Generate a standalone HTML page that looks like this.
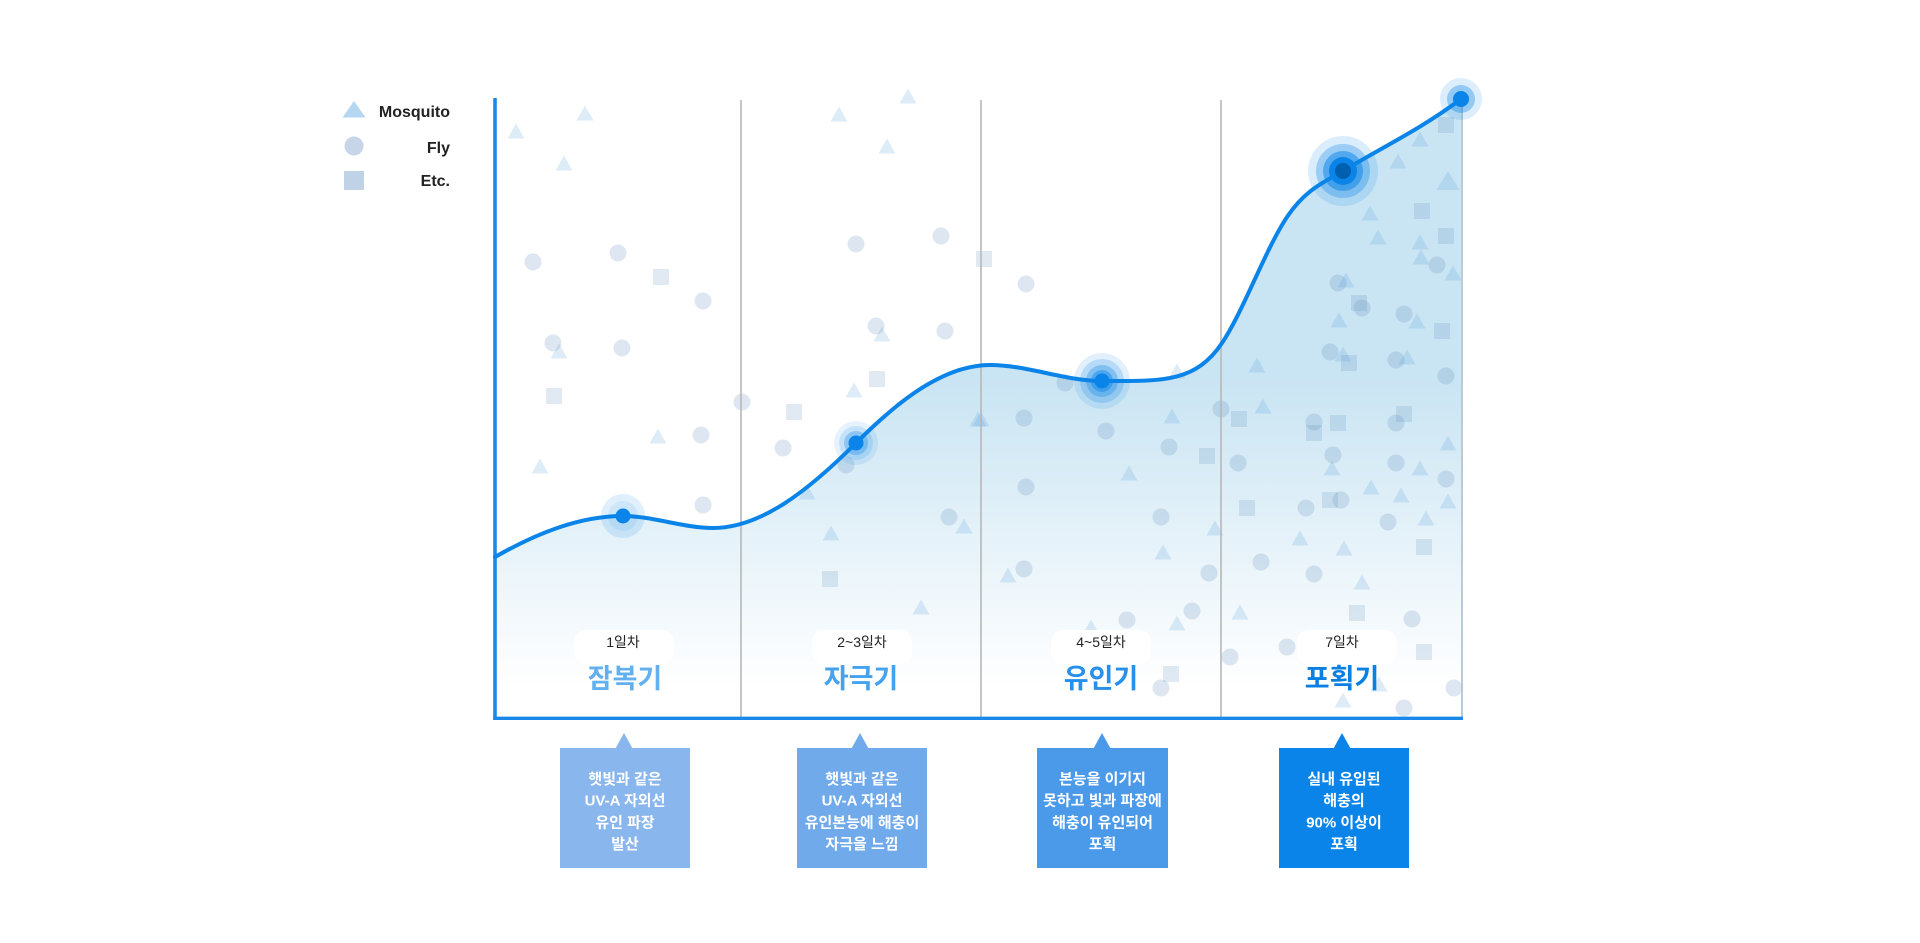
<!DOCTYPE html>
<html><head><meta charset="utf-8">
<style>
html,body{margin:0;padding:0;background:#fff;}
svg{display:block;}
text{font-family:"Liberation Sans","Noto Sans CJK KR",sans-serif;}
</style></head>
<body>
<svg width="1920" height="943" viewBox="0 0 1920 943" xmlns="http://www.w3.org/2000/svg">
<defs>
<linearGradient id="g" x1="0" y1="100" x2="0" y2="718" gradientUnits="userSpaceOnUse">
<stop offset="0" stop-color="#c9e4f3"/>
<stop offset="0.45" stop-color="#c9e4f3"/>
<stop offset="0.95" stop-color="#ffffff"/>
</linearGradient>
<polygon id="tri" points="0,-8.5 8.5,6.5 -8.5,6.5"/>
<polygon id="bigtri" points="0,-11 11.5,8 -11.5,8"/>
</defs>

<!-- fill -->
<path fill="url(#g)" d="M495,557 C537.7,532.7 580.3,516 623,516 C653,516 683,528 713,528 C760.7,528 808.3,490.7 856,443 C900.7,398.3 945.3,365 990,365 C1027.3,365 1064.7,381 1102,381 C1160,381 1195,383.5 1222,343 C1243.7,310.5 1265.3,249.5 1287,217 C1305.7,189 1324.3,182.2 1343,171 C1382.3,147.4 1421.7,128.5 1461,99 L1461,718 L495,718 Z"/>

<!-- triangles -->
<g fill="rgb(70,150,215)" fill-opacity="0.18">
<use href="#tri" x="516" y="132"/><use href="#tri" x="585" y="114"/><use href="#tri" x="564" y="164"/><use href="#tri" x="559" y="352"/><use href="#tri" x="658" y="437"/><use href="#tri" x="540" y="467"/>
<use href="#tri" x="839" y="115"/><use href="#tri" x="908" y="97"/><use href="#tri" x="887" y="147"/><use href="#tri" x="882" y="335"/><use href="#tri" x="854" y="391"/><use href="#tri" x="807" y="493"/><use href="#tri" x="964" y="527"/><use href="#tri" x="831" y="534"/><use href="#tri" x="921" y="608"/><use href="#tri" x="978" y="420"/>
<use href="#tri" x="1177" y="372"/><use href="#tri" x="981" y="420"/><use href="#tri" x="1172" y="417"/><use href="#tri" x="1129" y="474"/><use href="#tri" x="1215" y="529"/><use href="#tri" x="1163" y="553"/><use href="#tri" x="1008" y="576"/><use href="#tri" x="1177" y="624"/><use href="#tri" x="1091" y="628"/>
<use href="#tri" x="1420" y="140"/><use href="#tri" x="1398" y="162"/><use href="#bigtri" x="1448" y="182"/><use href="#tri" x="1370" y="214"/><use href="#tri" x="1378" y="238"/><use href="#tri" x="1420" y="243"/><use href="#tri" x="1421" y="258"/><use href="#tri" x="1453" y="274"/><use href="#tri" x="1346" y="281"/><use href="#tri" x="1417" y="322"/><use href="#tri" x="1339" y="321"/><use href="#tri" x="1343" y="355"/><use href="#tri" x="1407" y="358"/><use href="#tri" x="1257" y="366"/><use href="#tri" x="1263" y="407"/><use href="#tri" x="1448" y="444"/><use href="#tri" x="1332" y="469"/><use href="#tri" x="1420" y="469"/><use href="#tri" x="1371" y="488"/><use href="#tri" x="1401" y="496"/><use href="#tri" x="1448" y="502"/><use href="#tri" x="1426" y="519"/><use href="#tri" x="1300" y="539"/><use href="#tri" x="1344" y="549"/><use href="#tri" x="1362" y="583"/><use href="#tri" x="1240" y="613"/><use href="#tri" x="1379" y="685"/><use href="#tri" x="1343" y="701"/>
</g>

<!-- circles -->
<g fill="rgb(80,130,180)" fill-opacity="0.19">
<circle cx="533" cy="262" r="8.5"/><circle cx="618" cy="253" r="8.5"/><circle cx="703" cy="301" r="8.5"/><circle cx="553" cy="343" r="8.5"/><circle cx="622" cy="348" r="8.5"/><circle cx="742" cy="402" r="8.5"/><circle cx="701" cy="435" r="8.5"/><circle cx="703" cy="505" r="8.5"/>
<circle cx="856" cy="244" r="8.5"/><circle cx="941" cy="236" r="8.5"/><circle cx="876" cy="326" r="8.5"/><circle cx="945" cy="331" r="8.5"/><circle cx="783" cy="448" r="8.5"/><circle cx="846" cy="465" r="8.5"/><circle cx="949" cy="517" r="8.5"/>
<circle cx="1026" cy="284" r="8.5"/><circle cx="1065" cy="383" r="8.5"/><circle cx="1024" cy="418" r="8.5"/><circle cx="1221" cy="409" r="8.5"/><circle cx="1106" cy="431" r="8.5"/><circle cx="1169" cy="447" r="8.5"/><circle cx="1026" cy="487" r="8.5"/><circle cx="1161" cy="517" r="8.5"/><circle cx="1024" cy="569" r="8.5"/><circle cx="1209" cy="573" r="8.5"/><circle cx="1192" cy="611" r="8.5"/><circle cx="1127" cy="620" r="8.5"/><circle cx="1161" cy="688" r="8.5"/>
<circle cx="1437" cy="265" r="8.5"/><circle cx="1338" cy="283" r="8.5"/><circle cx="1362" cy="308" r="8.5"/><circle cx="1404" cy="314" r="8.5"/><circle cx="1330" cy="352" r="8.5"/><circle cx="1396" cy="360" r="8.5"/><circle cx="1446" cy="376" r="8.5"/><circle cx="1314" cy="422" r="8.5"/><circle cx="1396" cy="423" r="8.5"/><circle cx="1238" cy="463" r="8.5"/><circle cx="1333" cy="455" r="8.5"/><circle cx="1396" cy="463" r="8.5"/><circle cx="1446" cy="479" r="8.5"/><circle cx="1306" cy="508" r="8.5"/><circle cx="1341" cy="500" r="8.5"/><circle cx="1388" cy="522" r="8.5"/><circle cx="1261" cy="562" r="8.5"/><circle cx="1314" cy="574" r="8.5"/><circle cx="1412" cy="619" r="8.5"/><circle cx="1287" cy="647" r="8.5"/><circle cx="1230" cy="657" r="8.5"/><circle cx="1454" cy="688" r="8.5"/><circle cx="1404" cy="708" r="8.5"/>
</g>

<!-- squares -->
<g fill="rgb(80,130,180)" fill-opacity="0.17">
<rect x="653" y="269" width="16" height="16"/><rect x="546" y="388" width="16" height="16"/>
<rect x="976" y="251" width="16" height="16"/><rect x="869" y="371" width="16" height="16"/><rect x="786" y="404" width="16" height="16"/><rect x="822" y="571" width="16" height="16"/>
<rect x="1199" y="448" width="16" height="16"/><rect x="1163" y="666" width="16" height="16"/>
<rect x="1438" y="117" width="16" height="16"/><rect x="1414" y="203" width="16" height="16"/><rect x="1438" y="228" width="16" height="16"/><rect x="1351" y="295" width="16" height="16"/><rect x="1434" y="323" width="16" height="16"/><rect x="1341" y="355" width="16" height="16"/><rect x="1231" y="411" width="16" height="16"/><rect x="1306" y="425" width="16" height="16"/><rect x="1330" y="415" width="16" height="16"/><rect x="1396" y="406" width="16" height="16"/><rect x="1239" y="500" width="16" height="16"/><rect x="1322" y="492" width="16" height="16"/><rect x="1416" y="539" width="16" height="16"/><rect x="1349" y="605" width="16" height="16"/><rect x="1416" y="644" width="16" height="16"/>
</g>

<!-- label patches -->
<g fill="#ffffff">
<rect x="574" y="630" width="100" height="34" rx="12"/>
<rect x="812" y="630" width="100" height="34" rx="12"/>
<rect x="1051" y="630" width="100" height="34" rx="12"/>
<rect x="1297" y="630" width="100" height="34" rx="12"/>
</g>

<!-- dividers -->
<g stroke="#b7b7b7" stroke-width="1.6">
<line x1="741" y1="100" x2="741" y2="718"/>
<line x1="981" y1="100" x2="981" y2="718"/>
<line x1="1221" y1="100" x2="1221" y2="718"/>
</g>
<line x1="1462" y1="100" x2="1462" y2="718" stroke="#a9bccb" stroke-width="1.6"/>

<!-- axes -->
<line x1="495" y1="98" x2="495" y2="719.5" stroke="#1a88ea" stroke-width="3.6"/>
<line x1="493.2" y1="718.3" x2="1463" y2="718.3" stroke="#1a88ea" stroke-width="3.4"/>

<!-- curve -->
<path fill="none" stroke="#0a84e8" stroke-width="4" stroke-linecap="round" d="M495,557 C537.7,532.7 580.3,516 623,516 C653,516 683,528 713,528 C760.7,528 808.3,490.7 856,443 C900.7,398.3 945.3,365 990,365 C1027.3,365 1064.7,381 1102,381 C1160,381 1195,383.5 1222,343 C1243.7,310.5 1265.3,249.5 1287,217 C1305.7,189 1324.3,182.2 1343,171 C1382.3,147.4 1421.7,128.5 1461,99"/>

<!-- halos -->
<g fill="#0a84e8">
<circle cx="623" cy="516" r="22" fill-opacity="0.13"/>
<circle cx="623" cy="516" r="15" fill-opacity="0.08"/>
<circle cx="623" cy="516" r="7.5"/>

<circle cx="856" cy="443" r="22" fill-opacity="0.1"/>
<circle cx="856" cy="443" r="17" fill-opacity="0.14"/>
<circle cx="856" cy="443" r="12" fill-opacity="0.3"/>
<circle cx="856" cy="443" r="7.5"/>

<circle cx="1102" cy="381" r="28" fill-opacity="0.12"/>
<circle cx="1102" cy="381" r="22" fill-opacity="0.2"/>
<circle cx="1102" cy="381" r="16" fill-opacity="0.3"/>
<circle cx="1102" cy="381" r="11" fill-opacity="0.45"/>
<circle cx="1102" cy="381" r="7.5"/>

<circle cx="1343" cy="171" r="35" fill-opacity="0.15"/>
<circle cx="1343" cy="171" r="27" fill-opacity="0.3"/>
<circle cx="1343" cy="171" r="20" fill-opacity="0.5"/>
<circle cx="1343" cy="171" r="14"/>
<circle cx="1343" cy="171" r="8" fill="#0060b0"/>

<circle cx="1461" cy="99" r="21" fill-opacity="0.14"/>
<circle cx="1461" cy="99" r="14" fill-opacity="0.35"/>
<circle cx="1461" cy="99" r="8"/>
</g>

<!-- stage labels -->
<g text-anchor="middle">
<text x="623" y="647" font-size="14" fill="#222">1일차</text>
<text x="862" y="647" font-size="14" fill="#222">2~3일차</text>
<text x="1101" y="647" font-size="14" fill="#222">4~5일차</text>
<text x="1342" y="647" font-size="14" fill="#222">7일차</text>
<text x="625" y="688" font-size="27" font-weight="bold" fill="#62b0f0">잠복기</text>
<text x="861" y="688" font-size="27" font-weight="bold" fill="#45a2ee">자극기</text>
<text x="1101" y="688" font-size="27" font-weight="bold" fill="#2690ea">유인기</text>
<text x="1342" y="688" font-size="27" font-weight="bold" fill="#0b80e2">포획기</text>
</g>

<!-- boxes -->
<rect x="560" y="748" width="130" height="120" fill="#89b6ed"/>
<polygon points="615.5,748.5 624,733 632.5,748.5" fill="#89b6ed"/>
<rect x="797" y="748" width="130" height="120" fill="#70aaeb"/>
<polygon points="851.5,748.5 860,733 868.5,748.5" fill="#70aaeb"/>
<rect x="1037" y="748" width="131" height="120" fill="#4b9aea"/>
<polygon points="1093.5,748.5 1102,733 1110.5,748.5" fill="#4b9aea"/>
<rect x="1279" y="748" width="130" height="120" fill="#0a84e8"/>
<polygon points="1333.5,748.5 1342,733 1350.5,748.5" fill="#0a84e8"/>

<g text-anchor="middle" font-size="15" font-weight="bold" fill="#ffffff">
<text x="625" y="784">햇빛과 같은</text>
<text x="625" y="805.7">UV-A 자외선</text>
<text x="625" y="827.3">유인 파장</text>
<text x="625" y="849">발산</text>

<text x="862" y="784">햇빛과 같은</text>
<text x="862" y="805.7">UV-A 자외선</text>
<text x="862" y="827.3">유인본능에 해충이</text>
<text x="862" y="849">자극을 느낌</text>

<text x="1102.5" y="784">본능을 이기지</text>
<text x="1102.5" y="805.7">못하고 빛과 파장에</text>
<text x="1102.5" y="827.3">해충이 유인되어</text>
<text x="1102.5" y="849">포획</text>

<text x="1344" y="784">실내 유입된</text>
<text x="1344" y="805.7">해충의</text>
<text x="1344" y="827.3">90% 이상이</text>
<text x="1344" y="849">포획</text>
</g>

<!-- legend -->
<polygon points="354,101 365.5,117.5 342.5,117.5" fill="#b5d6f0"/>
<circle cx="354" cy="146" r="9.5" fill="#c6d6e8"/>
<rect x="344" y="171" width="20" height="19" fill="#c0d2e5"/>
<g text-anchor="end" font-size="16" font-weight="bold" fill="#222">
<text x="450" y="117">Mosquito</text>
<text x="450" y="153">Fly</text>
<text x="450" y="186">Etc.</text>
</g>
</svg>
</body></html>
